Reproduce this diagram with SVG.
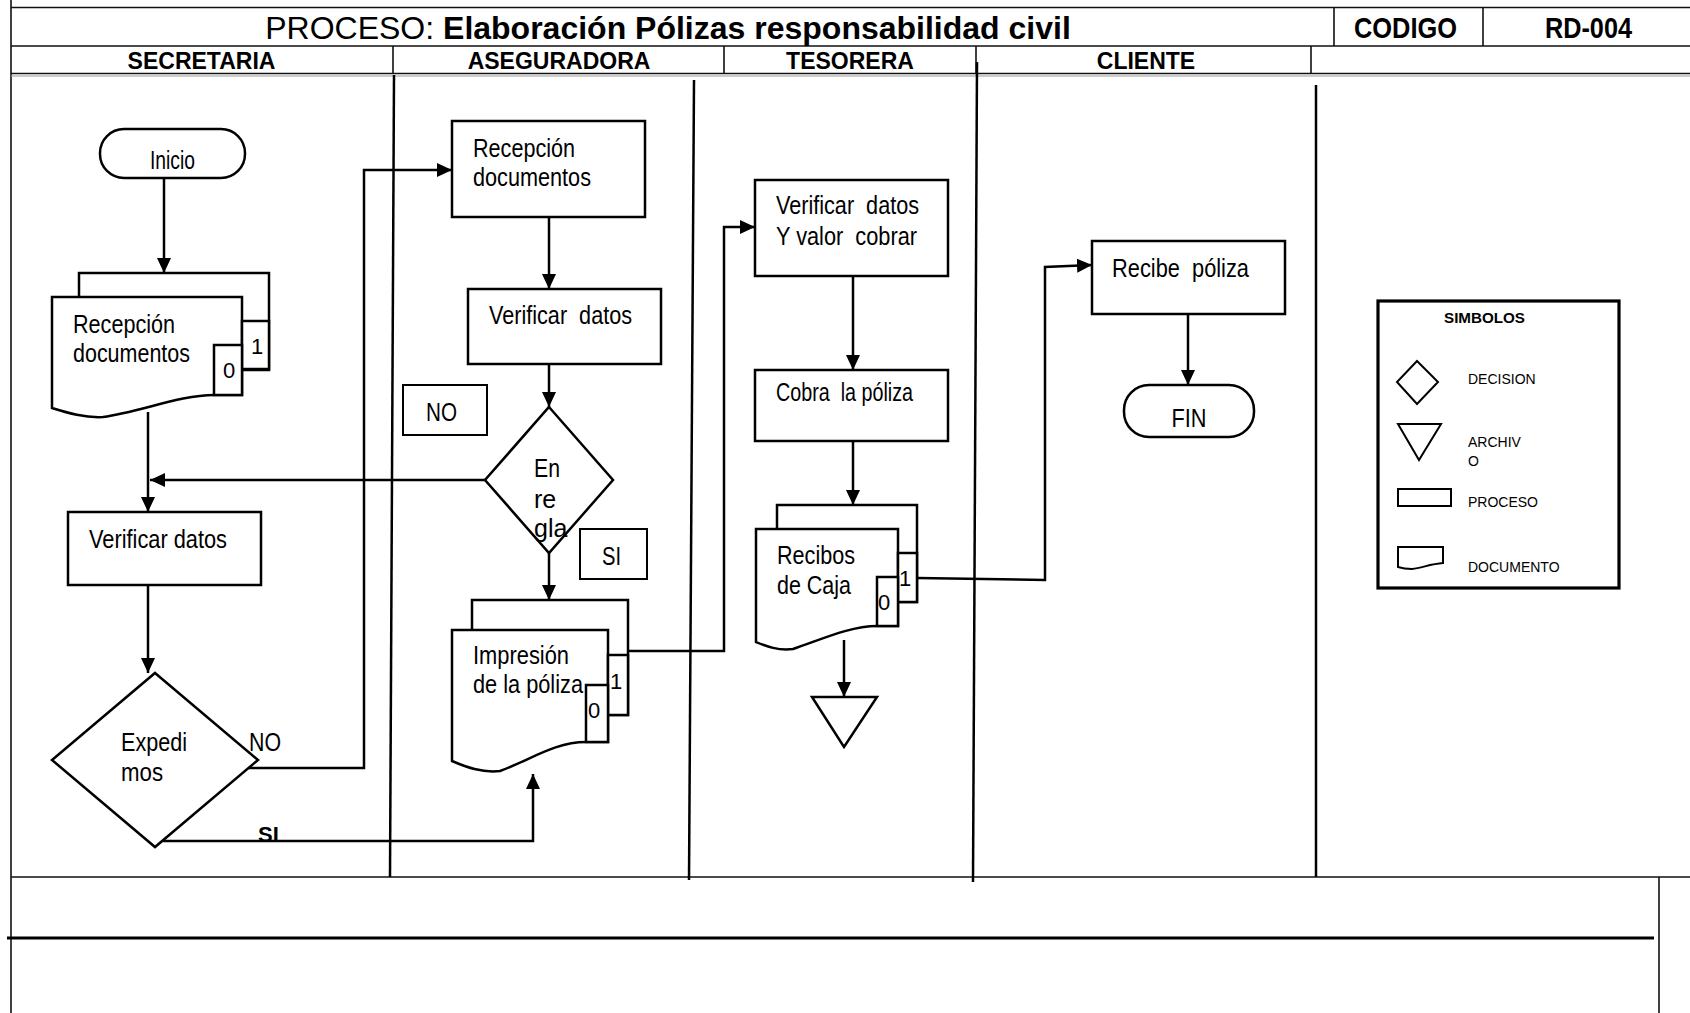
<svg xmlns="http://www.w3.org/2000/svg" width="1690" height="1013" viewBox="0 0 1690 1013">
  <style>
    .frame { stroke: #111; stroke-width: 1.6; fill: none; }
    .lane { stroke: #000; stroke-width: 2.5; fill: none; }
    .s { fill: #fff; stroke: #000; stroke-width: 2.5; }
    .c { fill: none; stroke: #000; stroke-width: 2.5; }
    .t { font-family: "Liberation Sans Narrow", "Arial Narrow", "Liberation Sans", Arial, sans-serif; font-size: 25px; fill: #000; }
    .dg { font-family: "Liberation Sans Narrow", "Arial Narrow", "Liberation Sans", Arial, sans-serif; font-size: 22px; fill: #000; }
    .hd { font-family: "Liberation Sans", Arial, sans-serif; font-weight: bold; font-size: 23px; text-anchor: middle; fill: #000; }
    .cd { font-family: "Liberation Sans Narrow", "Arial Narrow", "Liberation Sans", Arial, sans-serif; font-weight: bold; font-size: 30px; text-anchor: middle; fill: #000; }
    .lg { font-family: "Liberation Sans", Arial, sans-serif; font-size: 14px; fill: #000; }
    .mid { text-anchor: middle; }
  </style>
  <defs>
    <marker id="ah" markerUnits="userSpaceOnUse" markerWidth="16" markerHeight="14" refX="15" refY="7" orient="auto">
      <path d="M0,0 L15,7 L0,14 z" fill="#000"/>
    </marker>
  </defs>

  <rect width="1690" height="1013" fill="#fff"/>

  <!-- page frame and header grid -->
  <g id="frame">
    <line class="frame" x1="11" y1="0" x2="11" y2="1013"/>
    <line class="frame" x1="11" y1="7.5" x2="1690" y2="7.5"/>
    <line class="frame" x1="11" y1="46" x2="1690" y2="46"/>
    <line class="frame" x1="11" y1="73.5" x2="1690" y2="73.5"/>
    <line x1="11" y1="76" x2="1690" y2="76" stroke="#999" stroke-width="1"/>
    <line class="frame" x1="1334" y1="7.5" x2="1334" y2="46"/>
    <line class="frame" x1="1483" y1="7.5" x2="1483" y2="46"/>
    <line class="frame" x1="393" y1="46" x2="393" y2="74"/>
    <line class="frame" x1="724" y1="46" x2="724" y2="74"/>
    <line class="frame" x1="976" y1="46" x2="976" y2="74"/>
    <line class="frame" x1="1311" y1="46" x2="1311" y2="74"/>
    <line class="frame" x1="11" y1="877" x2="1690" y2="877"/>
    <line class="frame" x1="1659" y1="877" x2="1659" y2="1013"/>
    <line x1="7" y1="938" x2="1654" y2="938" stroke="#000" stroke-width="3.2"/>
  </g>

  <!-- swimlane separators -->
  <g id="lanes">
    <line class="lane" x1="394" y1="75" x2="390" y2="877"/>
    <line class="lane" x1="694" y1="80" x2="689" y2="880"/>
    <line class="lane" x1="977" y1="62" x2="973" y2="882"/>
    <line class="lane" x1="1316" y1="85" x2="1316" y2="877"/>
  </g>

  <!-- header texts -->
  <g id="header">
    <text x="668" y="39" text-anchor="middle" font-family="Liberation Sans, Arial, sans-serif" font-size="32"><tspan>PROCESO: </tspan><tspan font-weight="bold">Elaboración Pólizas responsabilidad civil</tspan></text>
    <text class="cd" x="1405.5" y="38" textLength="103" lengthAdjust="spacingAndGlyphs">CODIGO</text>
    <text class="cd" x="1588.5" y="38" textLength="87" lengthAdjust="spacingAndGlyphs">RD-004</text>
    <text class="hd" x="201.5" y="69">SECRETARIA</text>
    <text class="hd" x="559" y="69">ASEGURADORA</text>
    <text class="hd" x="850" y="69">TESORERA</text>
    <text class="hd" x="1146" y="69">CLIENTE</text>
  </g>

  <!-- connectors -->
  <g id="connectors">
    <line class="c" x1="164" y1="178" x2="164" y2="273" marker-end="url(#ah)"/>
    <line class="c" x1="148" y1="412" x2="148" y2="512" marker-end="url(#ah)"/>
    <line class="c" x1="485" y1="480" x2="150" y2="480" marker-end="url(#ah)"/>
    <line class="c" x1="148" y1="585" x2="148" y2="673" marker-end="url(#ah)"/>
    <polyline class="c" points="247,768 364,768 364,170 452,170" marker-end="url(#ah)"/>
    <polyline class="c" points="163,841 533,841 533,774" marker-end="url(#ah)"/>
    <line class="c" x1="549" y1="217" x2="549" y2="289" marker-end="url(#ah)"/>
    <line class="c" x1="549" y1="364" x2="549" y2="407" marker-end="url(#ah)"/>
    <line class="c" x1="549" y1="553" x2="549" y2="600" marker-end="url(#ah)"/>
    <polyline class="c" points="628,651 724,651 724,227 755,227" marker-end="url(#ah)"/>
    <line class="c" x1="853" y1="276" x2="853" y2="370" marker-end="url(#ah)"/>
    <line class="c" x1="853" y1="441" x2="853" y2="505" marker-end="url(#ah)"/>
    <line class="c" x1="844" y1="640" x2="844" y2="697" marker-end="url(#ah)"/>
    <polyline class="c" points="917,578 1045,580 1045,267 1092,265" marker-end="url(#ah)"/>
    <line class="c" x1="1188" y1="314" x2="1188" y2="385" marker-end="url(#ah)"/>
  </g>

  <!-- SECRETARIA -->
  <g id="inicio">
    <rect class="s" x="100" y="129" width="145" height="49" rx="24" ry="24"/>
    <text class="t mid" x="172.5" y="169" font-size="21" textLength="45" lengthAdjust="spacingAndGlyphs">Inicio</text>
  </g>
  <g id="doc-recepcion">
    <rect class="s" x="79" y="273" width="190" height="97"/>
    <path class="s" d="M52,297 H242 V395 H214 C180,395 140,412 103,417 C85,418 68,413 52,408 Z"/>
    <rect class="s" x="242" y="321" width="27" height="48"/>
    <rect class="s" x="214" y="345" width="28" height="50"/>
    <text class="t" x="73" y="333" textLength="102" lengthAdjust="spacingAndGlyphs">Recepción</text>
    <text class="t" x="73" y="362" textLength="117" lengthAdjust="spacingAndGlyphs">documentos</text>
    <text class="dg" x="251" y="354">1</text>
    <text class="dg" x="223" y="378">0</text>
  </g>
  <g id="verificar-sec">
    <rect class="s" x="68" y="512" width="193" height="73"/>
    <text class="t" x="89" y="548" textLength="138" lengthAdjust="spacingAndGlyphs">Verificar datos</text>
  </g>
  <g id="expedimos">
    <polygon class="s" points="155,673 258,760 155,847 52,760"/>
    <text class="t" x="121" y="751" textLength="66" lengthAdjust="spacingAndGlyphs">Expedi</text>
    <text class="t" x="121" y="781" textLength="42" lengthAdjust="spacingAndGlyphs">mos</text>
  </g>
  <g id="labels-expedimos">
    <text class="t" x="249" y="751" textLength="32" lengthAdjust="spacingAndGlyphs">NO</text>
    <text x="258" y="842" font-family="Liberation Sans, Arial, sans-serif" font-weight="bold" font-size="22">SI</text>
  </g>

  <!-- ASEGURADORA -->
  <g id="recepcion-aseg">
    <rect class="s" x="452" y="121" width="193" height="96"/>
    <text class="t" x="473" y="157" textLength="102" lengthAdjust="spacingAndGlyphs">Recepción</text>
    <text class="t" x="473" y="186" textLength="118" lengthAdjust="spacingAndGlyphs">documentos</text>
  </g>
  <g id="verificar-aseg">
    <rect class="s" x="468" y="289" width="193" height="75"/>
    <text class="t" x="489" y="324" xml:space="preserve" textLength="143" lengthAdjust="spacingAndGlyphs">Verificar  datos</text>
  </g>
  <g id="no-box">
    <rect x="403" y="385" width="84" height="50" fill="#fff" stroke="#000" stroke-width="2"/>
    <text class="t mid" x="441.5" y="421" textLength="31" lengthAdjust="spacingAndGlyphs">NO</text>
  </g>
  <g id="en-regla">
    <polygon class="s" points="549,407 613,480 549,553 485,480"/>
    <text class="t" x="534" y="477" textLength="26" lengthAdjust="spacingAndGlyphs">En</text>
    <text class="t" x="534" y="508">re</text>
    <text class="t" x="534" y="537">gla</text>
  </g>
  <g id="si-box">
    <rect x="580" y="529" width="67" height="50" fill="#fff" stroke="#000" stroke-width="2"/>
    <text class="t" x="602" y="565" textLength="19" lengthAdjust="spacingAndGlyphs">SI</text>
  </g>
  <g id="doc-impresion">
    <rect class="s" x="472" y="600" width="156" height="115"/>
    <path class="s" d="M452,630 H608 V742 H586 C555,742 530,760 500,771 C482,773 466,767 452,761 Z"/>
    <rect class="s" x="608" y="655" width="20" height="60"/>
    <rect class="s" x="586" y="685" width="22" height="57"/>
    <text class="t" x="473" y="664" textLength="96" lengthAdjust="spacingAndGlyphs">Impresión</text>
    <text class="t" x="473" y="693" textLength="110" lengthAdjust="spacingAndGlyphs">de la póliza</text>
    <text class="dg" x="610" y="689">1</text>
    <text class="dg" x="588" y="718">0</text>
  </g>

  <!-- TESORERA -->
  <g id="verificar-tes">
    <rect class="s" x="755" y="180" width="193" height="96"/>
    <text class="t" x="776" y="214" xml:space="preserve" textLength="143" lengthAdjust="spacingAndGlyphs">Verificar  datos</text>
    <text class="t" x="776" y="245" xml:space="preserve" textLength="141" lengthAdjust="spacingAndGlyphs">Y valor  cobrar</text>
  </g>
  <g id="cobra">
    <rect class="s" x="755" y="370" width="193" height="71"/>
    <text class="t" x="776" y="401" font-size="23" xml:space="preserve" textLength="137" lengthAdjust="spacingAndGlyphs">Cobra  la póliza</text>
  </g>
  <g id="doc-recibos">
    <rect class="s" x="777" y="505" width="140" height="97"/>
    <path class="s" d="M756,529 H898 V626 H877 C850,626 820,640 793,649 C778,651 766,646 756,642 Z"/>
    <rect class="s" x="898" y="553" width="19" height="49"/>
    <rect class="s" x="877" y="577" width="21" height="49"/>
    <text class="t" x="777" y="564" textLength="78" lengthAdjust="spacingAndGlyphs">Recibos</text>
    <text class="t" x="777" y="594" textLength="74" lengthAdjust="spacingAndGlyphs">de Caja</text>
    <text class="dg" x="899" y="586">1</text>
    <text class="dg" x="878" y="610">0</text>
  </g>
  <g id="archivo">
    <polygon class="s" points="812,697 877,697 844,747"/>
  </g>

  <!-- CLIENTE -->
  <g id="recibe">
    <rect class="s" x="1092" y="241" width="193" height="73"/>
    <text class="t" x="1112" y="277" xml:space="preserve" textLength="137" lengthAdjust="spacingAndGlyphs">Recibe  póliza</text>
  </g>
  <g id="fin">
    <rect class="s" x="1124" y="385" width="130" height="52" rx="25" ry="25"/>
    <text class="t mid" x="1189" y="427" textLength="35" lengthAdjust="spacingAndGlyphs">FIN</text>
  </g>

  <!-- symbol legend -->
  <g id="simbolos">
    <rect x="1378" y="301" width="241" height="287" fill="#fff" stroke="#000" stroke-width="3.2"/>
    <text x="1484.5" y="323" text-anchor="middle" font-family="Liberation Sans, Arial, sans-serif" font-weight="bold" font-size="15" textLength="81" lengthAdjust="spacingAndGlyphs">SIMBOLOS</text>
    <polygon points="1417,361 1438,382 1417,404 1397,382" fill="#fff" stroke="#000" stroke-width="2"/>
    <text class="lg" x="1468" y="384">DECISION</text>
    <polygon points="1398,424 1441,424 1419,460" fill="#fff" stroke="#000" stroke-width="2"/>
    <text class="lg" x="1468" y="447">ARCHIV</text>
    <text class="lg" x="1468" y="466">O</text>
    <rect x="1398" y="489" width="53" height="17" fill="#fff" stroke="#000" stroke-width="2"/>
    <text class="lg" x="1468" y="507">PROCESO</text>
    <path d="M1398,547 H1443 V563 C1430,564 1422,568 1412,569 C1405,569 1401,568 1398,567 Z" fill="#fff" stroke="#000" stroke-width="2"/>
    <text class="lg" x="1468" y="572">DOCUMENTO</text>
  </g>
</svg>
